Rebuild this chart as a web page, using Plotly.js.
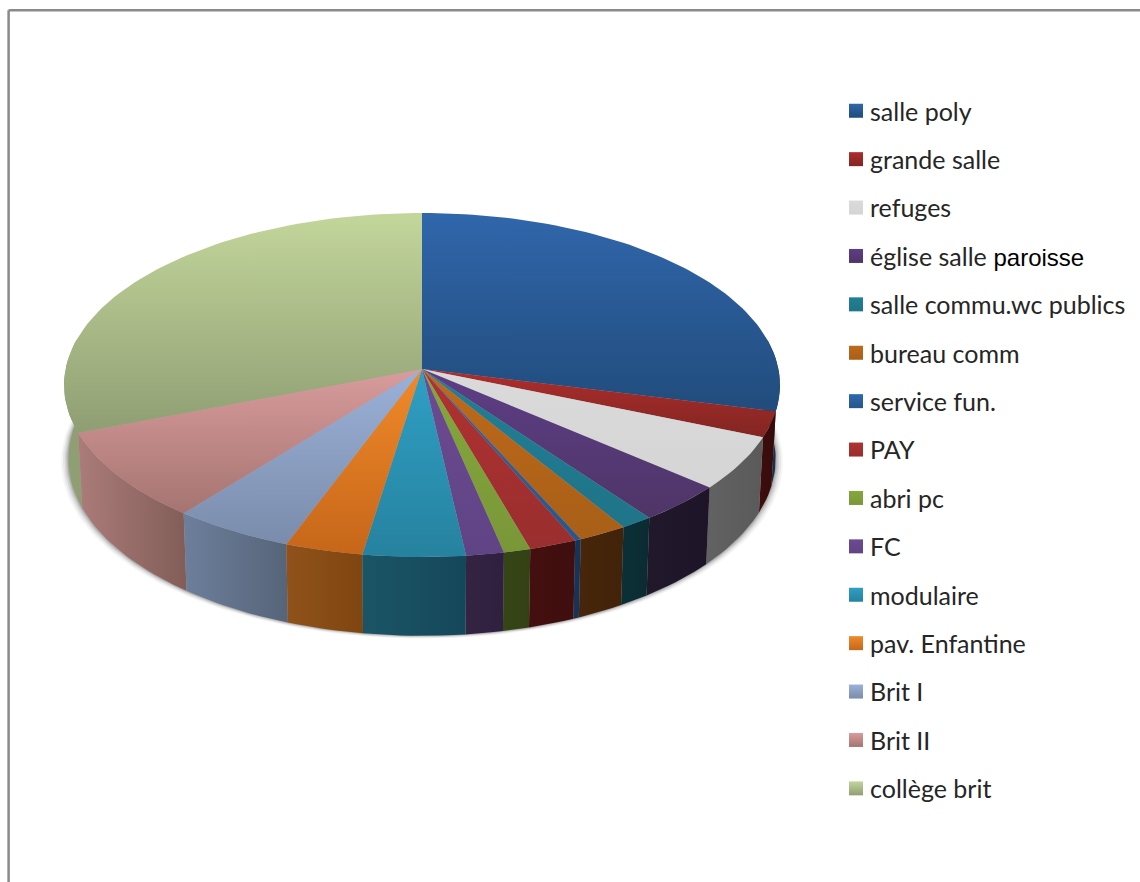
<!DOCTYPE html>
<html>
<head>
<meta charset="utf-8">
<script src="https://cdn.plot.ly/plotly-3.0.1.min.js"></script>
<style>html,body{margin:0;padding:0;background:#fff}#chart{width:1140px;height:882px}</style>
</head>
<body>
<div id="chart"></div>
<script>
// Share of each building, in percent, clockwise from twelve o'clock
const categories = ["salle poly","grande salle","refuges","église salle<span style='font-family:Liberation Sans;fill:#000;font-size:24px'> paroisse</span>",
  "salle commu.wc publics","bureau comm","service fun.","PAY","abri pc","FC","modulaire",
  "pav. Enfantine","Brit I","Brit II","collège brit"];
const shares = [28.9,2.4,5.0,3.65,1.33,2.03,0.25,1.97,1.11,1.56,4.22,3.22,4.99,8.46,30.89];
const topLight = ["#3066ab","#ad2e2c","#dadada","#5d3e86","#217f96","#bf6a1b","#2e69ad","#b03231","#84a83c","#6e4a92","#2f9fc4","#f08a2a","#9bb1d8","#d89c9c","#c3d69b"];
const topDark  = ["#214c7c","#822522","#d5d5d5","#4f3567","#1f7488","#a85f17","#26568c","#9a2e2e","#7a9738","#5f4485","#26829f","#c66619","#7a8cab","#a57471","#8f9e73"];
const wallLeft  = ["#15304f","#3f0d0d","#626262","#21182c","#0c3038","#47260a","#173358","#440f0f","#364516","#342341","#1a5566","#90521a","#6d7f9c","#ab7c79","#8f9e73"];
const wallRight = ["#15304f","#360b0b","#5a5a5a","#1d1527","#0b2b32","#41230a","#173358","#3f0e0e","#334114","#302040","#15475a","#7f4611","#566478","#825d58","#8f9e73"];

// Perspective model of the disc, in page pixels
const cx = 422, cy = 369, Rx = 356.4, Ry = 170.5, persp = 0.093, depth = 73.5, shrink = 0.988;
function project(deg, bottom) {
  const t = deg * Math.PI / 180, u = Math.sin(t), v = -Math.cos(t);
  const d = 1 - persp * v, s = bottom ? shrink : 1;
  return [cx + Rx * u / d * s, cy + Ry * v / d * s + (bottom ? depth / d : 0)];
}
function arc(a, b, bottom) {
  const n = Math.max(2, Math.ceil(Math.abs(b - a) / 1.5)), pts = [];
  for (let i = 0; i <= n; i++) pts.push(project(a + (b - a) * i / n, bottom));
  return pts;
}
function polygon(pts, extra) {
  return Object.assign({x: pts.map(p => p[0]), y: pts.map(p => p[1]), mode: "lines", fill: "toself",
    line: {width: 0}, hoverinfo: "skip", showlegend: false}, extra);
}
const total = shares.reduce((a, b) => a + b, 0);
const slices = [];
shares.reduce((start, s, i) => {
  const end = start + s / total * 360;
  slices.push({i, start, end});
  return end;
}, 0);

const traces = [];

// Soft shadow below the rim, wider at the sides than under the front
[[7, 0.05], [5.2, 0.07], [3.6, 0.1], [2.2, 0.13], [1, 0.17]].forEach(([grow, alpha]) => {
  const rim = arc(0, 360, true).map(p => [p[0] + (p[0] - cx) * grow / 340, p[1] + grow * 0.4]);
  traces.push(polygon(rim, {fillcolor: `rgba(60,60,60,${alpha})`}));
});

// Side walls, back to front
slices.slice().sort((a, b) =>
  Math.abs(b.start / 2 + b.end / 2 - 180) - Math.abs(a.start / 2 + a.end / 2 - 180)
).forEach(sl => {
  const a = Math.max(sl.start, 80), b = Math.min(sl.end, 280);
  if (b <= a) return;
  const pts = arc(a, b, false).concat(arc(b, a, true));
  pts.push(pts[0]);
  traces.push(polygon(pts, {fillgradient: {type: "horizontal",
    colorscale: [[0, wallLeft[sl.i]], [1, wallRight[sl.i]]]}}));
});

// Top faces
slices.forEach(sl => {
  const pts = [[cx, cy]].concat(arc(sl.start, sl.end, false));
  pts.push([cx, cy]);
  traces.push(polygon(pts, {fillgradient: {type: "vertical",
    colorscale: [[0, topDark[sl.i]], [1, topLight[sl.i]]]}}));
});

// Legend entries
categories.forEach((name, i) => {
  traces.push({x: [null], y: [null], mode: "markers", name, legendgroup: "g" + i, hoverinfo: "skip",
    marker: {symbol: "square", size: 14, color: topLight[i],
      gradient: {type: "vertical", color: topDark[i]}}});
});

const frame = {type: "line", xref: "paper", yref: "paper", line: {color: "#8a8a8a", width: 2.5}};
const layout = {
  width: 1140, height: 882, margin: {l: 0, r: 0, t: 0, b: 0, pad: 0},
  paper_bgcolor: "#fff", plot_bgcolor: "#fff",
  xaxis: {range: [0, 1140], visible: false, fixedrange: true},
  yaxis: {range: [882, 0], visible: false, fixedrange: true},
  legend: {x: 830 / 1140, y: 1 - 88 / 882, xanchor: "left", yanchor: "top", traceorder: "grouped",
    tracegroupgap: 12.9, bgcolor: "rgba(0,0,0,0)", itemclick: false, itemdoubleclick: false,
    font: {family: "Lato, Carlito, sans-serif", size: 25, color: "#262626"}},
  shapes: [
    Object.assign({x0: 8.6 / 1140, x1: 1, y0: 1 - 10.3 / 882, y1: 1 - 10.3 / 882}, frame),
    Object.assign({x0: 8.6 / 1140, x1: 8.6 / 1140, y0: 1 - 10.3 / 882, y1: 0}, frame)
  ]
};

Plotly.newPlot("chart", traces, layout, {displayModeBar: false, staticPlot: true}).then(gd => {
  // Bring the swatches closer to their labels
  gd.querySelectorAll(".legend .legendsymbols").forEach(g => g.setAttribute("transform", "translate(6,0)"));
});
</script>
</body>
</html>
